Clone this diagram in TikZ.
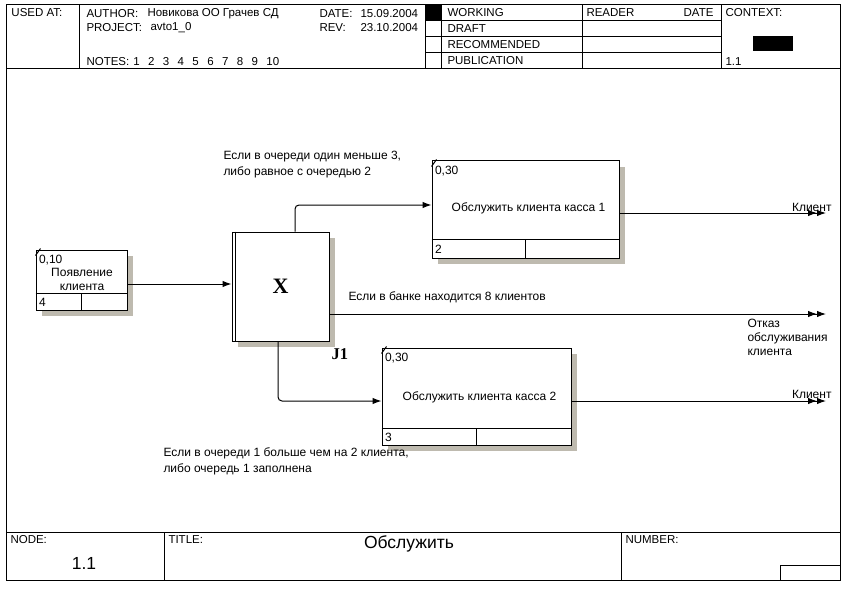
\documentclass[tikz,border=0pt]{standalone}
\usepackage{fontspec}
\setmainfont{Liberation Sans}
\newfontfamily\boxserif{Liberation Serif}
\usetikzlibrary{arrows.meta, shadows}
\definecolor{shade}{RGB}{190, 186, 175}

\begin{document}
\begin{tikzpicture}[x=1pt, y=-1pt, line width=1, >={Latex[length=9pt, width=6.5pt]},
  txt/.style={font=\fontsize{11.5}{14}\selectfont, inner sep=0},
  label/.style={font=\fontsize{12}{14}\selectfont, inner sep=0},
  cond/.style={font=\fontsize{12}{16}\selectfont, inner sep=0, align=left},
  big/.style={font=\fontsize{17.5}{20}\selectfont, inner sep=0},
  actbox/.style={draw, fill=white, inner sep=0,
    drop shadow={shadow xshift=6pt, shadow yshift=-6pt, fill=shade, opacity=1}},
  flow/.style={->, rounded corners=4pt}]

  \useasboundingbox (0,0) rectangle (846,591);

  % form frame
  \draw (6,5) rectangle (840,580);
  \draw (6,69) -- (840,69);
  \draw (79,5) -- (79,69);
  \draw (425,5) -- (425,69);
  \draw (441,5) -- (441,69);
  \draw (582,5) -- (582,69);
  \draw (721,5) -- (721,69);
  \draw (425,21) -- (721,21);
  \draw (425,37) -- (721,37);
  \draw (425,53) -- (721,53);
  \fill (425,5) rectangle (441,21);
  \fill (753,36) rectangle (793,51);

  \draw (6,532) -- (840,532);
  \draw (164,532) -- (164,580);
  \draw (621,532) -- (621,580);
  \draw (780,565) rectangle (840,580);

  % header texts
  \node[txt, anchor=west] (usedat) at (11,13) {USED AT:};
  \node[txt, anchor=west] (author) at (86,14) {AUTHOR:};
  \node[txt, anchor=west] (authorv) at (147,14) {Новикова ОО Грачев СД};
  \node[txt, anchor=west] (project) at (86,28) {PROJECT:};
  \node[txt, anchor=west] (projectv) at (150,28) {avto1\_0};
  \node[txt, anchor=west] (date) at (319,14) {DATE:};
  \node[txt, anchor=west] (datev) at (360,14) {15.09.2004};
  \node[txt, anchor=west] (rev) at (319,28) {REV:};
  \node[txt, anchor=west] (revv) at (360,28) {23.10.2004};
  \node[txt, anchor=west] (notes) at (86,62) {NOTES:\hspace{4pt}1\hspace{8.4pt}2\hspace{8.4pt}3\hspace{8.4pt}4\hspace{8.4pt}5\hspace{8.4pt}6\hspace{8.4pt}7\hspace{8.4pt}8\hspace{8.4pt}9\hspace{8.4pt}10};

  \node[txt, anchor=west] (working) at (447,13) {WORKING};
  \node[txt, anchor=west] (draft) at (447,29) {DRAFT};
  \node[txt, anchor=west] (recommended) at (447,45) {RECOMMENDED};
  \node[txt, anchor=west] (publication) at (447,61) {PUBLICATION};
  \node[txt, anchor=west] (reader) at (586,13) {READER};
  \node[txt, anchor=east] (readerdate) at (714,13) {DATE};
  \node[txt, anchor=west] (context) at (725,13) {CONTEXT:};
  \node[txt, anchor=west] (contextnum) at (725,62) {1.1};

  % footer texts
  \node[txt, anchor=west] (nodelabel) at (10,540) {NODE:};
  \node[big] (nodenum) at (84,563) {1.1};
  \node[txt, anchor=west] (titlelabel) at (168,540) {TITLE:};
  \node[big] (title) at (409,544) {Обслужить};
  \node[txt, anchor=west] (numberlabel) at (625,540) {NUMBER:};

  % boxes
  \node[actbox, minimum width=91pt, minimum height=60pt] (p4) at (81.5,280) {};
  \draw ([yshift=17pt]p4.south west) -- ([yshift=17pt]p4.south east);
  \draw ([yshift=17pt]p4.south) -- (p4.south);
  \draw ([yshift=-6pt]p4.north west) -- ([xshift=5pt, yshift=1pt]p4.north west);
  \node[label, anchor=north west] (p4cost) at ([xshift=3pt, yshift=-5pt]p4.north west) {0,10};
  \node[label, align=center] (p4name) at (82,279) {Появление\\клиента};
  \node[label, anchor=west] (p4num) at ([xshift=3pt, yshift=8.5pt]p4.south west) {4};

  \node[actbox, minimum width=97pt, minimum height=109pt,
    font=\boxserif\bfseries\fontsize{22}{24}\selectfont] (j1) at (280.5,286.5) {X};
  \draw ([xshift=4pt]j1.north west) -- ([xshift=4pt]j1.south west);
  \node[inner sep=0, anchor=west, font=\boxserif\bfseries\fontsize{16.5}{18}\selectfont] (j1name) at (331,354) {J1};

  \node[actbox, minimum width=187pt, minimum height=97pt] (b2) at (525.5,209.5) {};
  \draw ([yshift=19pt]b2.south west) -- ([yshift=19pt]b2.south east);
  \draw ([yshift=19pt]b2.south) -- (b2.south);
  \draw ([yshift=-6pt]b2.north west) -- ([xshift=5pt, yshift=1pt]b2.north west);
  \node[label, anchor=north west] (b2cost) at ([xshift=3pt, yshift=-5pt]b2.north west) {0,30};
  \node[label] (b2name) at ([xshift=3pt, yshift=1.5pt]b2.center) {Обслужить клиента касса 1};
  \node[label, anchor=west] (b2num) at ([xshift=3pt, yshift=9.5pt]b2.south west) {2};

  \node[actbox, minimum width=189pt, minimum height=97pt] (b3) at (476.5,396.5) {};
  \draw ([yshift=17pt]b3.south west) -- ([yshift=17pt]b3.south east);
  \draw ([yshift=17pt]b3.south) -- (b3.south);
  \draw ([yshift=-6pt]b3.north west) -- ([xshift=5pt, yshift=1pt]b3.north west);
  \node[label, anchor=north west] (b3cost) at ([xshift=3pt, yshift=-5pt]b3.north west) {0,30};
  \node[label] (b3name) at ([xshift=3pt, yshift=-0.5pt]b3.center) {Обслужить клиента касса 2};
  \node[label, anchor=west] (b3num) at ([xshift=3pt, yshift=8.5pt]b3.south west) {3};

  % arrows
  \coordinate (out1) at (826,213);
  \coordinate (refuse) at (826,314);
  \coordinate (out2) at (826,401);

  \draw[->] ([yshift=-4pt]p4.east) -- ([yshift=-4pt]p4.east -| j1.west);
  \draw[flow] ([xshift=14.5pt]j1.north) |- ([yshift=4.5pt]b2.west);
  \draw[flow] ([xshift=-2.5pt]j1.south) |- ([yshift=-4.5pt]b3.west);
  \draw[->>] (out1 -| b2.east) -- (out1);
  \draw[->>] (refuse -| j1.east) -- (refuse);
  \draw[->>] (out2 -| b3.east) -- (out2);

  \node[label, anchor=east] (client1) at (832,207) {Клиент};
  \node[label, anchor=east] (client2) at (832,394) {Клиент};
  \node[label, anchor=north west, align=left] (refusal) at (747,319) {Отказ\\обслуживания\\клиента};

  \node[cond, anchor=north west] (cond1) at (223,151) {Если в очереди один меньше 3,\\либо равное с очередью 2};
  \node[cond, anchor=west] (cond2) at (348,297) {Если в банке находится 8 клиентов};
  \node[cond, anchor=north west] (cond3) at (163,447) {Если в очереди 1 больше чем на 2 клиента,\\либо очередь 1 заполнена};

\end{tikzpicture}
\end{document}
